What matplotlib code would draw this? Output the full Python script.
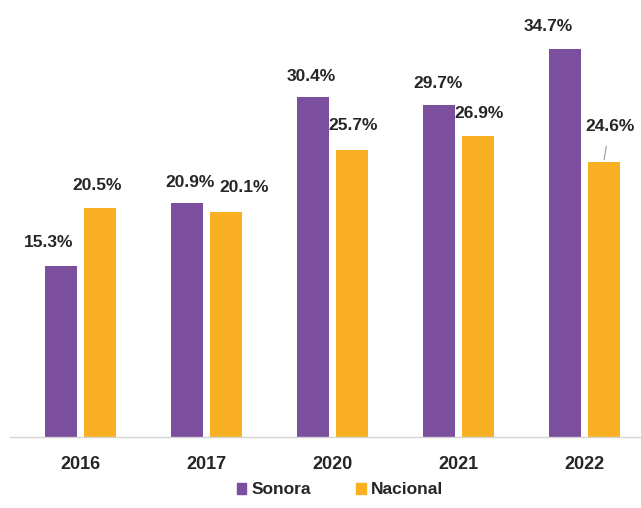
import matplotlib.pyplot as plt
import numpy as np
from matplotlib.patches import Patch

# Data
YEARS = ["2016", "2017", "2020", "2021", "2022"]
SONORA = [15.3, 20.9, 30.4, 29.7, 34.7]
NACIONAL = [20.5, 20.1, 25.7, 26.9, 24.6]

PURPLE = "#7b4f9e"
ORANGE = "#f8b022"
TEXT = "#262626"

# label offsets in points (dx, dy) from the top of each bar
SONORA_OFFSETS = [(-9, 17), (2, 15), (-1, 15), (-1, 15), (-12, 16)]
NACIONAL_OFFSETS = [(-2, 16), (13, 18), (1, 17), (1, 16), (4, 24)]

plt.rcParams["font.family"] = ["Liberation Sans", "DejaVu Sans"]
plt.rcParams["font.weight"] = "bold"

fig = plt.figure(figsize=(6.41, 5.08), dpi=100)
ax = fig.add_axes([10 / 641, 71 / 508, 631 / 641, 425 / 508])

x = np.arange(len(YEARS))
width = 0.26
offset = 0.155

bars_s = ax.bar(x - offset, SONORA, width, color=PURPLE, zorder=2)
bars_n = ax.bar(x + offset, NACIONAL, width, color=ORANGE, zorder=2)

label_kw = dict(textcoords="offset points", ha="center", va="center",
                fontsize=12.5, fontweight="bold", color=TEXT)

for bar, value, (dx, dy) in zip(bars_s, SONORA, SONORA_OFFSETS):
    ax.annotate(f"{value:.1f}%", (bar.get_x() + bar.get_width() / 2, value),
                xytext=(dx, dy), **label_kw)

for i, (bar, value, (dx, dy)) in enumerate(zip(bars_n, NACIONAL, NACIONAL_OFFSETS)):
    xb = bar.get_x() + bar.get_width() / 2
    if i == len(NACIONAL) - 1:
        # last label sits higher, tied to its bar with a short leader line
        ax.annotate(f"{value:.1f}%", (xb, value + 0.2), xytext=(dx, dy),
                    arrowprops=dict(arrowstyle="-", color="#9a9a9a", lw=0.8,
                                    shrinkA=7, shrinkB=0),
                    **label_kw)
    else:
        ax.annotate(f"{value:.1f}%", (xb, value), xytext=(dx, dy), **label_kw)

ax.set_xlim(-0.56, 4.448)
ax.set_ylim(0, 38)
ax.set_xticks(x)
ax.set_xticklabels(YEARS, fontsize=13, fontweight="bold", color=TEXT)
ax.tick_params(axis="x", length=0, pad=14)
ax.set_yticks([])
for side in ["left", "right", "top"]:
    ax.spines[side].set_visible(False)
ax.spines["bottom"].set_color("#d4d4d4")
ax.spines["bottom"].set_linewidth(1.0)

handles = [Patch(color=PURPLE, label="Sonora"), Patch(color=ORANGE, label="Nacional")]
leg = fig.legend(handles=handles, loc="center", bbox_to_anchor=(340 / 641, 1 - 490 / 508),
                 ncol=2, frameon=False, prop=dict(size=12.5, weight="bold"),
                 handlelength=0.55, handleheight=0.55, handletextpad=0.3,
                 columnspacing=2.6, labelcolor=TEXT)

fig.savefig("out.png", dpi=100)
